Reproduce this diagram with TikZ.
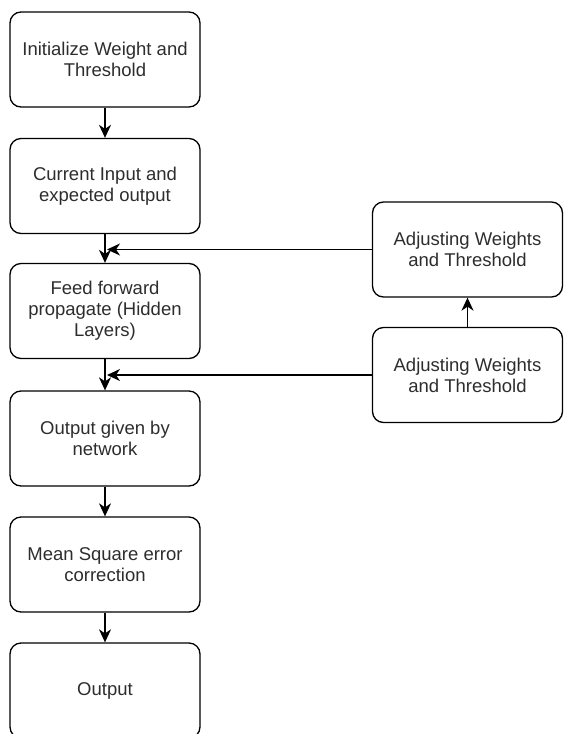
\documentclass[tikz,border=0pt]{standalone}
\usepackage{fontspec}
\setmainfont{Liberation Sans}
\usetikzlibrary{arrows.meta}
\definecolor{txt}{RGB}{45,45,45}
\begin{document}
\begin{tikzpicture}[x=1pt,y=-1pt,
  box/.style={draw=black,line width=1.3pt,rounded corners=11pt,minimum width=190pt,minimum height=95pt,
    align=center,inner sep=0pt,text=txt,font=\fontsize{18.5pt}{21pt}\selectfont},
  conn/.style={draw=black,line width=1.4pt,-{Stealth[length=13pt,width=12pt,inset=4pt]}}]
\path[use as bounding box] (0,0) rectangle (563,734);
\clip (0,0) rectangle (563,734);
\node[box] (b1) at (105,59.5) {Initialize Weight and\\Threshold};
\node[box] (b2) at (105,186) {Current Input and\\expected output};
\node[box] (b3) at (105,311) {Feed forward\\propagate (Hidden\\Layers)};
\node[box] (b4) at (105,438.5) {Output given by\\network};
\node[box] (b5) at (105,564.5) {Mean Square error\\correction};
\node[box] (b6) at (105,690.5) {Output};
\node[box] (r1) at (467.5,249.5) {Adjusting Weights\\and Threshold};
\node[box] (r2) at (467.5,375) {Adjusting Weights\\and Threshold};
\coordinate (t1) at (107,249.5);
\coordinate (t2) at (107,375);
\draw[conn] (b1) -- (b2);
\draw[conn] (b2) -- (b3);
\draw[conn] (b3) -- (b4);
\draw[conn] (b4) -- (b5);
\draw[conn] (b5) -- (b6);
\draw[conn] (r2) -- (r1);
\draw[conn] (r1.west) -- (t1);
\draw[conn] (r2.west) -- (t2);
\end{tikzpicture}
\end{document}
